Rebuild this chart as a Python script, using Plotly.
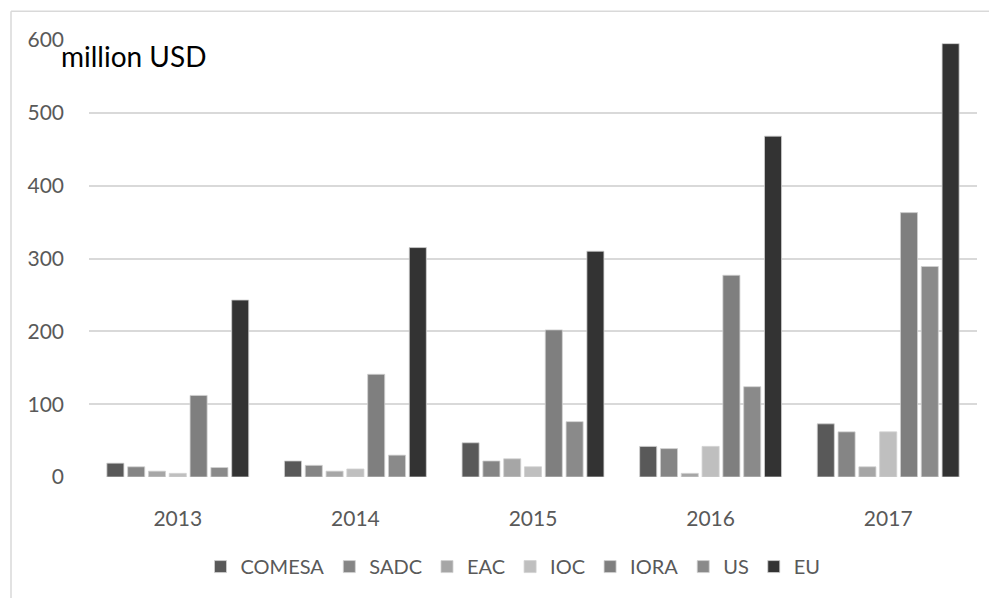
import plotly.graph_objects as go

years = ["2013", "2014", "2015", "2016", "2017"]
series_names = ["COMESA", "SADC", "EAC", "IOC", "IORA", "US", "EU"]
comesa = [19, 22, 47, 42, 73]
sadc = [14, 16, 22, 39, 62]
eac = [8, 8, 25, 5, 14]
ioc = [5, 11, 14, 42, 62]
iora = [112, 141, 202, 277, 363]
us = [13, 30, 76, 124, 289]
eu = [243, 315, 310, 468, 595]
y_ticks = [0, 100, 200, 300, 400, 500, 600]

values = [comesa, sadc, eac, ioc, iora, us, eu]
colors = ["#595959", "#858585", "#a6a6a6", "#bfbfbf", "#7f7f7f", "#8a8a8a", "#333333"]

FONT = "Lato"
W, H = 989, 598
ML, MR, MT, MB = 89, 12, 40, 119
PW, PH = W - ML - MR, H - MT - MB


def px_x(px):
    return (px - ML) / PW


def px_y(py):
    return (H - MB - py) / PH


fig = go.Figure()
for name, vals, col in zip(series_names, values, colors):
    fig.add_trace(go.Bar(
        x=years, y=vals, name=name,
        marker=dict(color=col, line=dict(color="#d0d0d0", width=0.8)),
    ))

fig.update_layout(
    width=W, height=H,
    margin=dict(l=ML, r=MR, t=MT, b=MB),
    paper_bgcolor="white", plot_bgcolor="white",
    barmode="group", bargap=0.18, bargroupgap=0.18,
    font=dict(family=FONT, color="#595959", size=21),
    showlegend=True,
    legend=dict(
        orientation="h", x=px_x(513), xanchor="center",
        y=px_y(569), yanchor="middle",
        font=dict(family=FONT, size=20, color="#595959"),
        itemwidth=30, traceorder="normal",
    ),
    xaxis=dict(
        showgrid=False, showline=False, zeroline=False, ticks="",
        tickfont=dict(family=FONT, size=21, color="#595959"),
        ticklabelstandoff=27,
    ),
    yaxis=dict(
        range=[0, 600], tickvals=y_ticks, showgrid=True,
        gridcolor="#d9d9d9", gridwidth=1.5, zeroline=False,
        showline=False, ticks="",
        tickfont=dict(family=FONT, size=21, color="#595959"),
        ticklabelstandoff=24,
    ),
    annotations=[dict(
        text="million USD", xref="paper", yref="paper",
        x=px_x(59), y=px_y(56), xanchor="left", yanchor="middle",
        showarrow=False, font=dict(family=FONT, size=28, color="#000000"),
    )],
    shapes=[
        dict(type="line", xref="paper", yref="paper",
             x0=px_x(11), x1=px_x(W + 5), y0=px_y(11), y1=px_y(11),
             line=dict(color="#d9d9d9", width=1.5)),
        dict(type="line", xref="paper", yref="paper",
             x0=px_x(11), x1=px_x(11), y0=px_y(11), y1=px_y(H + 5),
             line=dict(color="#d9d9d9", width=1.5)),
    ],
)

fig.write_html("out.html")
